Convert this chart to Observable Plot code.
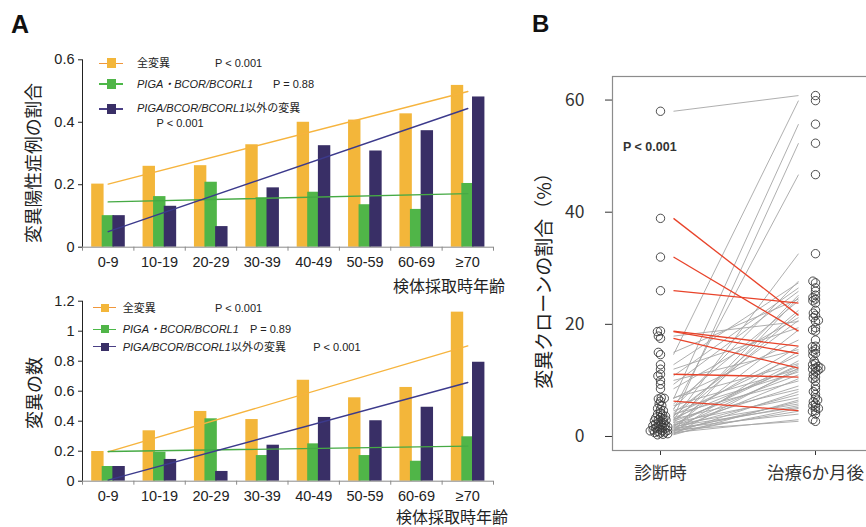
<!DOCTYPE html>
<html><head><meta charset="utf-8">
<script src="https://cdn.jsdelivr.net/npm/d3@7"></script>
<script src="https://cdn.jsdelivr.net/npm/@observablehq/plot@0.6"></script>
<style>
body{margin:0;background:#fff;overflow:hidden}
#root{position:relative;width:866px;height:527px;overflow:hidden;background:#fff}
#root svg{position:absolute;background:transparent}
</style></head><body><div id="root"></div>
<script>
// ---------------- data ----------------
const ageGroups = ["0-9","10-19","20-29","30-39","40-49","50-59","60-69","≥70"];
const seriesNames = ["全変異","PIGA・BCOR/BCORL1","PIGA/BCOR/BCORL1以外の変異"];
// Panel A top: proportion of mutation-positive cases
const propAll   = [0.202,0.259,0.261,0.328,0.400,0.407,0.427,0.518];
const propPiga  = [0.101,0.162,0.208,0.158,0.176,0.136,0.121,0.204];
const propOther = [0.101,0.131,0.066,0.190,0.325,0.308,0.373,0.481];
const propTicks = [0,0.2,0.4,0.6];
const propPvals = ["P < 0.001","P = 0.88","P < 0.001"];
// Panel A bottom: number of mutations
const countAll   = [0.198,0.336,0.465,0.411,0.673,0.556,0.625,1.127];
const countPiga  = [0.098,0.193,0.416,0.171,0.249,0.171,0.133,0.296];
const countOther = [0.098,0.145,0.065,0.240,0.425,0.403,0.493,0.793];
const countTicks = [0,0.2,0.4,0.6,0.8,1,1.2];
const countPvals = ["P < 0.001","P = 0.89","P < 0.001"];
// Panel B: clone size (%) at diagnosis and 6 months after treatment
const cloneTimes = ["診断時","治療6か月後"];
const clonePre  = [38.9,32.0,26.0,18.8,18.7,17.5,11.1,6.3, 58.0,14.6,6.7,3.4,4.8,3.0,17.9,15.0,12.8,12.0,10.8,10.0,9.3,8.5,6.9,6.8,5.8,5.5,5.0,4.6,4.2,4.0,3.8,3.6,3.3,3.1,2.9,2.7,2.5,2.4,2.2,2.1,2.0,1.9,1.8,1.7,1.6,1.5,1.4,1.3,1.2,1.1,1.0,0.9,0.8,0.7,0.6,0.5,0.4,0.3,2.8,1.0];
const clonePost = [21.6,18.8,23.8,16.1,14.8,12.2,10.6,4.6, 60.8,59.9,55.7,52.3,46.7,32.6,20.5,24.5,27.4,19.4,26.5,15.5,25.9,21.2,13.0,17.2,24.2,12.0,27.7,11.5,20.7,9.9,14.5,22.5,12.5,8.4,16.0,11.0,6.9,25.2,12.8,5.8,9.0,13.5,5.2,19.0,7.5,4.0,11.8,5.5,2.7,10.3,6.2,4.5,15.2,3.0,8.0,5.0,12.2,6.5,22.0,24.8];
const cloneTicks = [0,20,40,60];

// ---------------- style ----------------
const SANS = '"Liberation Sans", Arial, "Noto Sans CJK JP", sans-serif';
const CJK = '"Noto Sans CJK JP", "Noto Sans", sans-serif';
const barColors = ["#F3B63A","#50B548","#392F66"];
const trendColors = ["#F6B43E","#46AA45","#3C3A8C"];
const legendLineColors = ["#F0973C","#4CB848","#4A3F85"];

const root = document.getElementById("root");
function label(html, x, y, o = {}) {
  const d = document.createElement("div");
  d.innerHTML = html;
  Object.assign(d.style, {position:"absolute", whiteSpace:"nowrap", lineHeight:"1",
    fontSize:(o.size||12)+"px", fontFamily:o.family||SANS, color:o.color||"#222",
    fontWeight:o.bold?"bold":"normal", left:x+"px", top:y+"px"});
  const tx = o.anchor==="end" ? "-100%" : o.anchor==="middle" ? "-50%" : "0";
  d.style.transform = o.rotate ? `translate(-50%,-50%) rotate(${o.rotate}deg)` : `translate(${tx},-50%)`;
  root.appendChild(d);
}
function swatch(x0, y, len, sqW, sqH, lineColor, fill) {
  const l = document.createElement("div");
  Object.assign(l.style,{position:"absolute",left:x0+"px",top:(y-0.75)+"px",width:len+"px",height:"1.5px",background:lineColor});
  root.appendChild(l);
  const s = document.createElement("div");
  Object.assign(s.style,{position:"absolute",left:(x0+len/2-sqW/2)+"px",top:(y-sqH/2)+"px",width:sqW+"px",height:sqH+"px",background:fill});
  root.appendChild(s);
}
function put(svg, left, top) { svg.style.left = left+"px"; svg.style.top = top+"px"; root.appendChild(svg); return svg; }

// least-squares trend from the bar values (drawn from first to last group)
function trend(vals) {
  const n = vals.length, mx = (n-1)/2, my = d3.mean(vals);
  let sxy = 0, sxx = 0;
  vals.forEach((v,i) => { sxy += (i-mx)*(v-my); sxx += (i-mx)*(i-mx); });
  const b = sxy/sxx, a = my - b*mx;
  return [{age: ageGroups[0], v: a}, {age: ageGroups[n-1], v: a + b*(n-1)}];
}

function barChart(sets, ticks, opt) {
  const bw = (opt.width - opt.marginLeft - opt.marginRight) / ageGroups.length;
  const barW = 12.4, inset = (bw - barW)/2, offs = [-10.3, 0.2, 10.9];
  const marks = [];
  sets.forEach((vals,k) => marks.push(Plot.barY(ageGroups.map((a,i)=>({age:a, v:vals[i]})),
    {x:"age", y:"v", fill:barColors[k], dx:offs[k], insetLeft:inset, insetRight:inset})));
  sets.forEach((vals,k) => marks.push(Plot.line(trend(vals), {x:"age", y:"v", stroke:trendColors[k], strokeWidth:1.4})));
  marks.push(Plot.ruleY([0], {stroke:"#8a8a8a"}));
  marks.push(Plot.ruleX(ageGroups, {x:d=>d, y1:0, y2:0, dx:-bw/2, insetBottom:-4, stroke:"#8a8a8a"}));
  marks.push(Plot.ruleX([ageGroups[ageGroups.length-1]], {x:d=>d, y1:0, y2:0, dx:bw/2, insetBottom:-4, stroke:"#8a8a8a"}));
  return Plot.plot({
    width: opt.width, height: opt.height,
    marginLeft: opt.marginLeft, marginRight: opt.marginRight, marginTop: opt.marginTop, marginBottom: opt.marginBottom,
    style: {fontFamily: SANS, fontSize: "14.5px", color: "#222", background: "transparent"},
    x: {type:"band", domain: ageGroups, padding: 0, round: false, label: null, tickSize: 0, tickPadding: opt.xPad},
    y: {domain: [0, ticks[ticks.length-1]], ticks, tickFormat: d => String(d), tickSize: 4, tickPadding: 4, label: null, line: true},
    marks
  });
}

// ---------------- Panel A ----------------
label("A", 11, 24, {size: 25, bold: true, color: "#111"});
put(barChart([propAll, propPiga, propOther], propTicks,
  {width: 520, height: 240, marginLeft: 82, marginRight: 27, marginTop: 19.3, marginBottom: 33.3, xPad: 10}), 0, 40);
put(barChart([countAll, countPiga, countOther], countTicks,
  {width: 520, height: 242, marginLeft: 82, marginRight: 27, marginTop: 15.7, marginBottom: 46.3, xPad: 10}), 0, 285);

label("変異陽性症例の割合", 33, 163, {size: 17.8, family: CJK, rotate: -90});
label("変異の数", 33, 393, {size: 18, family: CJK, rotate: -90});
label("検体採取時年齢", 505, 285, {size: 16, family: CJK, anchor: "end"});
label("検体採取時年齢", 508, 516, {size: 16, family: CJK, anchor: "end"});

// top legend
const legTopY = [63.3, 84, 108];
[0,1,2].forEach(k => swatch(99, legTopY[k] + (k===2?1:0), 24, 9, 10, legendLineColors[k], barColors[k]));
label(seriesNames[0], 137, legTopY[0], {size: 11});
label("<i>" + seriesNames[1] + "</i>", 137, legTopY[1], {size: 11});
label("<i>PIGA/BCOR/BCORL1</i>以外の変異", 137, legTopY[2], {size: 11});
label(propPvals[0], 215, legTopY[0], {size: 11});
label(propPvals[1], 273, legTopY[1], {size: 11});
label(propPvals[2], 156.5, 123.3, {size: 11});

// bottom legend
const legBotY = [307.5, 329.3, 346.5];
[0,1,2].forEach(k => swatch(93.3, legBotY[k], 23, 8, 8, legendLineColors[k], barColors[k]));
label(seriesNames[0], 122.7, legBotY[0], {size: 11});
label("<i>" + seriesNames[1] + "</i>", 122.7, legBotY[1], {size: 11});
label("<i>PIGA/BCOR/BCORL1</i>以外の変異", 122.7, legBotY[2], {size: 11});
label(countPvals[0], 215, legBotY[0], {size: 11});
label(countPvals[1], 250, legBotY[1], {size: 11});
label(countPvals[2], 313.3, legBotY[2], {size: 11});

// ---------------- Panel B ----------------
label("B", 532, 23.5, {size: 24, bold: true, color: "#111"});
const yDomB = [-2.5, 64.2];
const mTop = 76, mBot = 77, hB = 527;
const pairs = clonePre.map((p,i) => ({pre: p, post: clonePost[i]}));

// base: frame + axes
put(Plot.plot({
  width: 360, height: hB, marginLeft: 92, marginRight: 2, marginTop: mTop, marginBottom: mBot,
  style: {fontFamily: CJK, fontSize: "17.5px", color: "#333", background: "transparent"},
  x: {type: "point", domain: cloneTimes, range: [140, 295], padding: 0, label: null, tickSize: 5, tickPadding: 11},
  y: {domain: yDomB, ticks: cloneTicks, tickSize: 7, tickPadding: 21, label: null},
  marks: [Plot.frame({stroke: "#8c8c8c", strokeWidth: 1.2})]
}), 520, 0);

// connecting lines
put(Plot.plot({
  width: 360, height: hB, marginLeft: 92, marginRight: 2, marginTop: mTop, marginBottom: mBot,
  style: {background: "transparent"},
  x: {type: "point", domain: cloneTimes, range: [153, 278], padding: 0, axis: null},
  y: {domain: yDomB, axis: null},
  marks: [
    Plot.link(pairs.filter(d => d.post >= d.pre), {x1: () => cloneTimes[0], x2: () => cloneTimes[1], y1: "pre", y2: "post", stroke: "#a6a6a6", strokeWidth: 0.9}),
    Plot.link(pairs.filter(d => d.post < d.pre), {x1: () => cloneTimes[0], x2: () => cloneTimes[1], y1: "pre", y2: "post", stroke: "#E8432A", strokeWidth: 1.3})
  ]
}), 520, 0);

// dots (tight beeswarm per time point; collision radius smaller than the drawn ring so rings overlap as in the figure)
const dotRows = [
  ...clonePre.map(v => ({time: cloneTimes[0], v})),
  ...clonePost.map(v => ({time: cloneTimes[1], v}))
];
const dotSvg = put(Plot.plot({
  width: 380, height: hB, marginLeft: 62.5, marginRight: 7.5, marginTop: mTop, marginBottom: mBot,
  style: {background: "transparent"},
  facet: {data: dotRows, x: "time"},
  fx: {domain: cloneTimes, padding: 0, round: false, axis: null, label: null},
  y: {domain: yDomB, axis: null},
  marks: [
    Plot.dot(dotRows, Plot.dodgeX({anchor: "middle", padding: -1.3}, {y: "v", r: 2.2, stroke: "#3a3a3a", strokeWidth: 0.9, fill: "none"}))
  ]
}), 520, 0);
dotSvg.querySelectorAll("circle").forEach(c => c.setAttribute("r", 4.2));

label("変異クローンの割合（%）", 541.7, 276, {size: 19, family: CJK, rotate: -90, color: "#222"});
label("P &lt; 0.001", 623, 147, {size: 12.5, bold: true, color: "#333"});
</script></body></html>
